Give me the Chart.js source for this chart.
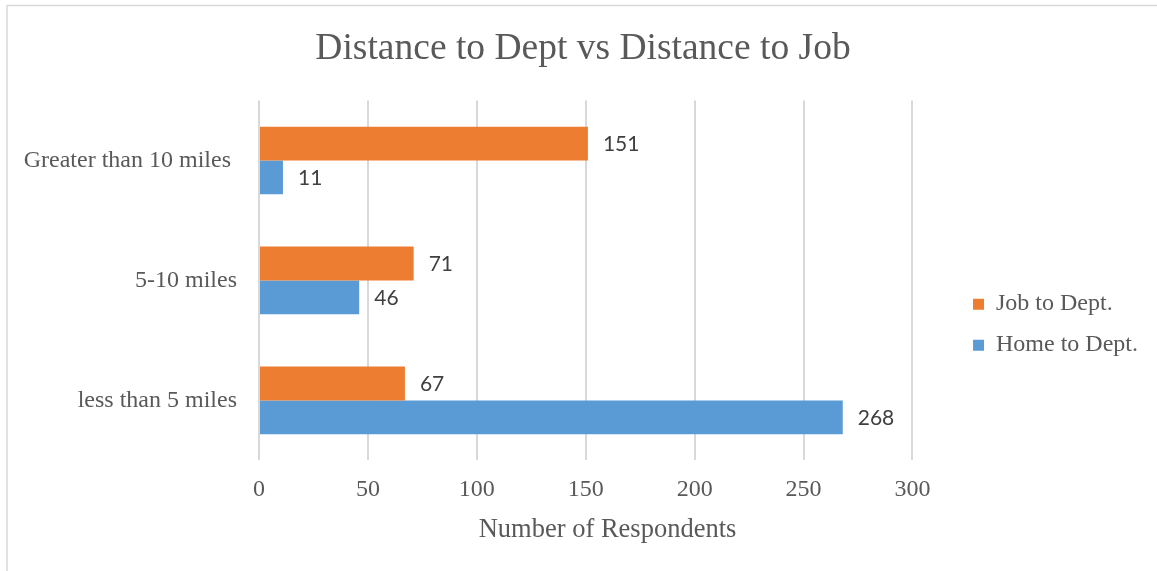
<!DOCTYPE html>
<html>
<head>
<meta charset="utf-8">
<title>Distance to Dept vs Distance to Job</title>
<script src="https://cdn.jsdelivr.net/npm/chart.js@4/dist/chart.umd.min.js"></script>
<style>
  html, body { margin: 0; padding: 0; background: #ffffff; }
  #wrap { position: relative; width: 1157px; height: 571px; }
</style>
</head>
<body>
<div id="wrap">
  <canvas id="chart" width="1157" height="571"></canvas>
</div>
<script>
// Survey answers, one value per distance band
const categories = ["Greater than 10 miles ", "5-10 miles", "less than 5 miles"];
const jobToDept = [151, 71, 67];
const homeToDept = [11, 46, 268];
const xTicks = [0, 50, 100, 150, 200, 250, 300];

const serif = "'Liberation Serif', 'Times New Roman', serif";
const textGrey = "#595959";

// Light frame around the whole chart
const frame = {
    id: 'frame',
    beforeDraw(chart) {
        const ctx = chart.ctx;
        ctx.save();
        ctx.strokeStyle = "#d9d9d9";
        ctx.lineWidth = 1.5;
        ctx.beginPath();
        ctx.moveTo(7, chart.height);
        ctx.lineTo(7, 5.5);
        ctx.lineTo(chart.width, 5.5);
        ctx.stroke();
        ctx.restore();
    }
};

// Value printed just past the end of each bar
const barValues = {
    id: 'barValues',
    afterDatasetsDraw(chart) {
        const ctx = chart.ctx;
        ctx.save();
        ctx.font = "21px Lato, 'Open Sans', sans-serif";
        ctx.fillStyle = "#404040";
        ctx.textAlign = "left";
        ctx.textBaseline = "middle";
        chart.data.datasets.forEach((ds, i) => {
            chart.getDatasetMeta(i).data.forEach((bar, j) => {
                ctx.fillText(ds.data[j], bar.x + 15, bar.y + 1);
            });
        });
        ctx.restore();
    }
};

let myChart = new Chart(document.getElementById("chart").getContext("2d"), {
    type: 'bar',
    data: {
        labels: categories,
        datasets: [{
            label: 'Job to Dept.',
            data: jobToDept,
            backgroundColor: '#ed7d31',
            borderWidth: 0
        },
        {
            label: 'Home to Dept.',
            data: homeToDept,
            backgroundColor: '#5b9bd5',
            borderWidth: 0
        }]
    },
    options: {
        indexAxis: 'y',
        responsive: false,
        animation: false,
        categoryPercentage: 0.564,
        barPercentage: 1,
        layout: {
            padding: { top: 0, left: 18, right: 9, bottom: 24.8 }
        },
        plugins: {
            title: {
                display: true,
                text: 'Distance to Dept vs Distance to Job',
                color: textGrey,
                font: { family: serif, size: 37.5, weight: 'normal' },
                padding: { top: 27, bottom: 28.5 }
            },
            legend: {
                position: 'right',
                align: 'center',
                // empty title only pushes the two entries down a little
                title: {
                    display: true,
                    text: ' ',
                    font: { size: 1 },
                    padding: { top: 102, bottom: 0 }
                },
                labels: {
                    color: textGrey,
                    font: { family: serif, size: 24 },
                    boxWidth: 11,
                    boxHeight: 11,
                    padding: 17
                }
            },
            tooltip: { enabled: false }
        },
        scales: {
            x: {
                min: 0,
                max: 320,
                afterBuildTicks: (scale) => {
                    scale.ticks = xTicks.map(v => ({ value: v }));
                },
                grid: {
                    color: '#d9d9d9',
                    lineWidth: 2,
                    drawTicks: false
                },
                border: { display: false },
                ticks: {
                    color: textGrey,
                    font: { family: serif, size: 24, lineHeight: 1 },
                    padding: 17,
                    maxRotation: 0
                },
                title: {
                    display: true,
                    text: 'Number of Respondents',
                    color: textGrey,
                    font: { family: serif, size: 26.5 },
                    padding: { top: -4, bottom: 0 }
                }
            },
            y: {
                grid: { display: false, drawTicks: false },
                border: { display: false },
                afterFit: (scale) => { scale.width = 241; },
                ticks: {
                    color: textGrey,
                    font: { family: serif, size: 24 },
                    padding: 22
                }
            }
        }
    },
    plugins: [frame, barValues]
});
</script>
</body>
</html>
